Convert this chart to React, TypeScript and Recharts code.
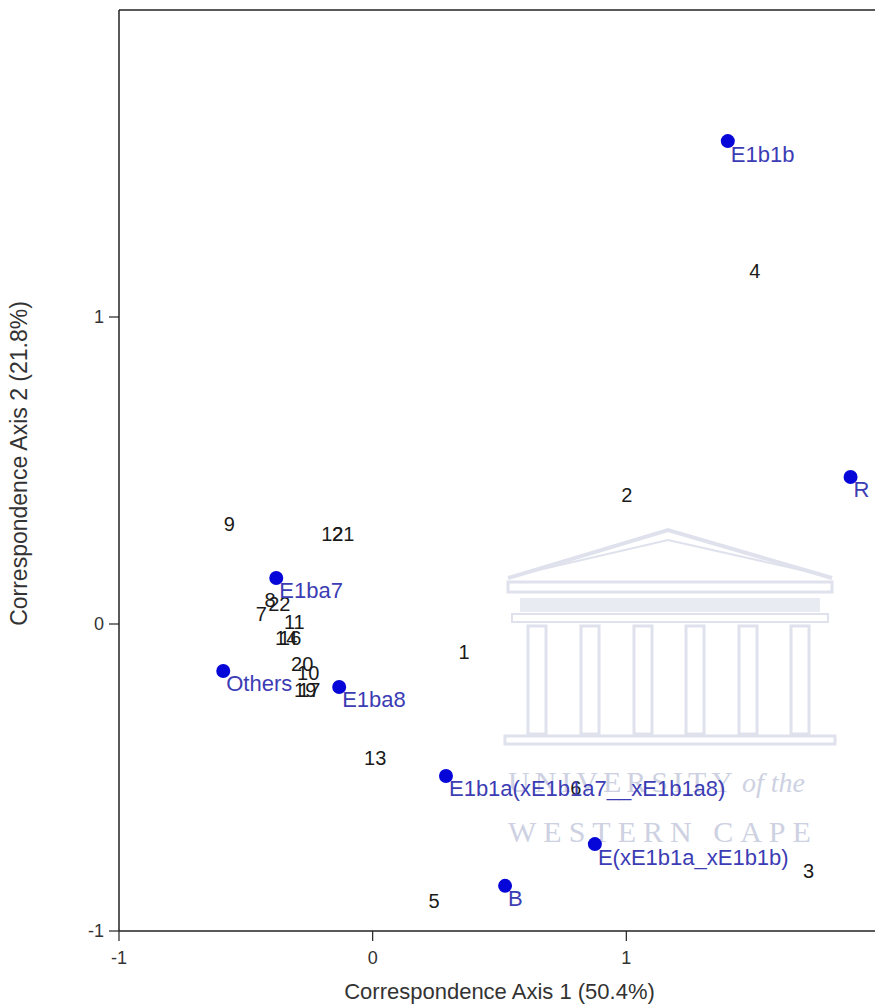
import { ScatterChart, Scatter, XAxis, YAxis, ReferenceLine } from "recharts";

// row points (numbered cases), drawn as text only
const rowNames = ["1", "2", "3", "4", "5", "6", "7", "8", "9", "10", "11", "12", "13", "14", "16", "17", "19", "20", "21", "22"];
const rowX = [0.36, 1.002, 1.718, 1.506, 0.242, 0.801, -0.439, -0.404, -0.565, -0.254, -0.309, -0.159, 0.01, -0.341, -0.325, -0.25, -0.266, -0.278, -0.116, -0.368];
const rowY = [-0.091, 0.42, -0.805, 1.15, -0.902, -0.534, 0.033, 0.078, 0.326, -0.16, 0.007, 0.293, -0.436, -0.046, -0.046, -0.215, -0.215, -0.13, 0.293, 0.065];

// column points (haplogroups), blue dot + label
const colNames = ["E1b1b", "R", "E1ba7", "Others", "E1ba8", "E1b1a(xE1b1a7__xE1b1a8)", "E(xE1b1a_xE1b1b)", "B"];
const colX = [1.4, 1.884, -0.38, -0.589, -0.132, 0.289, 0.876, 0.522];
const colY = [1.573, 0.479, 0.15, -0.153, -0.205, -0.495, -0.717, -0.853];

const ticks = [-1, 0, 1];

const FONT = "'Liberation Sans', Arial, Helvetica, sans-serif";
const AXIS = "#222";
const DOT = "#0606d8";
const LABEL = "#3c3cb4";

const rows = rowNames.map((name, i) => ({ name, x: rowX[i], y: rowY[i] }));
const cols = colNames.map((name, i) => ({ name, x: colX[i], y: colY[i] }));

function RowMark(props: any) {
    const { cx, cy, payload } = props;
    return (
        <text x={cx} y={cy} textAnchor="middle" dominantBaseline="central"
            fontSize={20} fontFamily={FONT} fill="#1a1a1a">
            {payload.name}
        </text>
    );
}

function ColMark(props: any) {
    const { cx, cy, payload } = props;
    return (
        <g>
            <circle cx={cx} cy={cy} r={7} fill={DOT} />
            <text x={cx + 3} y={cy + 13} dominantBaseline="central"
                fontSize={22} fontFamily={FONT} fill={LABEL}>
                {payload.name}
            </text>
        </g>
    );
}

// faint scan watermark behind the plot
function Watermark() {
    const c = "#dfe2ec";
    const t = "#cdd1e2";
    const cols = [537, 590, 643, 695, 748, 800];
    return (
        <svg width={875} height={1006} style={{ position: "absolute", left: 0, top: 0 }}>
            <polyline points="508,578 668,530 832,578" fill="none" stroke={c} strokeWidth={4} />
            <polyline points="530,572 668,540 810,572" fill="none" stroke={c} strokeWidth={2} />
            <rect x={508} y={582} width={324} height={10} fill="none" stroke={c} strokeWidth={3} />
            <rect x={520} y={598} width={300} height={14} fill={c} opacity={0.7} />
            <rect x={512} y={614} width={316} height={8} fill="none" stroke={c} strokeWidth={2} />
            {cols.map((x) => (
                <rect key={x} x={x - 9} y={626} width={18} height={108} fill="none" stroke={c} strokeWidth={3} />
            ))}
            <rect x={505} y={736} width={330} height={8} fill="none" stroke={c} strokeWidth={3} />
            <text x={508} y={792} fontFamily="'Liberation Serif', serif" fontSize={30} letterSpacing={5} fill={t}>
                UNIVERSITY
            </text>
            <text x={742} y={792} fontFamily="'Liberation Serif', serif" fontSize={28} fontStyle="italic" fill={t}>
                of the
            </text>
            <text x={508} y={842} fontFamily="'Liberation Serif', serif" fontSize={30} letterSpacing={7} fill={t}>
                WESTERN CAPE
            </text>
        </svg>
    );
}

function YTitle(props: any) {
    const vb = props.viewBox;
    const x = vb.x + 19;
    const y = vb.y + vb.height / 2 - 7;
    return (
        <text x={x} y={y} transform={`rotate(-90 ${x} ${y})`} textAnchor="middle"
            dominantBaseline="central" fontSize={23} fontFamily={FONT} fill="#333">
            Correspondence Axis 2 (21.8%)
        </text>
    );
}

export default function App() {
    return (
        <div style={{ position: "absolute", left: 0, top: 0, width: 875, height: 1006, overflow: "hidden", background: "#fff" }}>
            <Watermark />
            <div style={{ position: "absolute", left: 0, top: 0 }}>
                <ScatterChart width={900} height={1006} margin={{ top: 10, right: 20, bottom: 0, left: 0 }}>
                    <XAxis
                        type="number"
                        dataKey="x"
                        domain={[-1, 2]}
                        ticks={ticks}
                        height={75}
                        tickSize={10}
                        tickMargin={10}
                        tick={{ fontSize: 18, fill: "#333", fontFamily: FONT }}
                        axisLine={{ stroke: AXIS, strokeWidth: 1.5 }}
                        tickLine={{ stroke: AXIS, strokeWidth: 1.2 }}
                        label={{ value: "Correspondence Axis 1 (50.4%)", position: "insideBottom", offset: 7, fontSize: 22, fill: "#333", fontFamily: FONT }}
                    />
                    <YAxis
                        type="number"
                        dataKey="y"
                        domain={[-1, 2]}
                        ticks={ticks}
                        width={119}
                        tickSize={10}
                        tickMargin={5}
                        tick={{ fontSize: 18, fill: "#333", fontFamily: FONT }}
                        axisLine={{ stroke: AXIS, strokeWidth: 1.5 }}
                        tickLine={{ stroke: AXIS, strokeWidth: 1.2 }}
                        label={{ content: YTitle }}
                    />
                    <ReferenceLine y={2} stroke={AXIS} strokeWidth={1.5} />
                    <Scatter data={rows} shape={RowMark} isAnimationActive={false} />
                    <Scatter data={cols} shape={ColMark} isAnimationActive={false} />
                </ScatterChart>
            </div>
        </div>
    );
}
